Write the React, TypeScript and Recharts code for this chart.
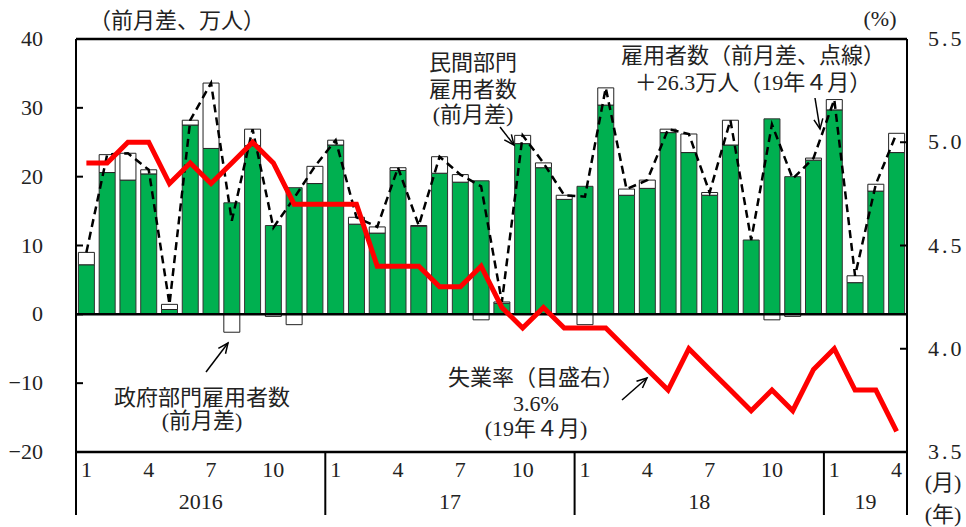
import { ComposedChart, Bar, Line, XAxis, YAxis, ReferenceLine } from 'recharts'

const W = 966
const H = 527
const PLOT_LEFT = 76
const PLOT_RIGHT = 907
const PLOT_TOP = 39
const PLOT_BOTTOM = 452

const FONT = "'Liberation Serif', 'Noto Sans CJK JP', serif"

// months Jan 2016 .. Apr 2019
const MONTHS = [
  1, 2, 3, 4, 5, 6, 7, 8, 9, 10, 11, 12,
  1, 2, 3, 4, 5, 6, 7, 8, 9, 10, 11, 12,
  1, 2, 3, 4, 5, 6, 7, 8, 9, 10, 11, 12,
  1, 2, 3, 4,
]
const YEARS = ['2016', '17', '18', '19']
const YEAR_MONTHS = [12, 12, 12, 4]
const MONTH_TICKS = [1, 4, 7, 10]

// 民間部門雇用者数（前月差、万人）
const PRIVATE = [
  7.2, 20.6, 19.5, 20.4, 0.7, 27.5, 24.1, 16.2, 24.5, 12.9, 18.4, 19.0,
  24.6, 13.1, 11.8, 20.9, 12.8, 20.5, 19.2, 19.4, 1.6, 24.8, 21.3, 16.7,
  18.6, 30.4, 17.3, 18.3, 26.4, 23.5, 17.3, 24.6, 10.8, 28.4, 20.0, 22.4,
  29.7, 4.6, 17.9, 23.5,
]
// 政府部門雇用者数（前月差、万人）
const GOVERNMENT = [
  1.8, 2.6, 3.9, 0.6, 0.75, 0.7, 9.5, -2.6, 2.4, -0.3, -1.5, 2.5,
  0.7, 1.0, 0.9, 0.4, 0.1, 2.4, 1.1, -0.8, 0.2, 1.2, 0.7, 0.6,
  -1.5, 2.5, 0.9, 1.2, 0.5, 2.7, 0.4, 3.6, 0.0, -0.8, -0.3, 0.3,
  1.5, 1.0, 1.0, 2.8,
]
// 雇用者数（前月差、点線）
const TOTAL = [
  9.0, 23.2, 23.4, 21.0, 1.45, 28.2, 33.6, 13.6, 26.9, 12.6, 16.9, 21.5,
  25.3, 14.1, 12.7, 21.3, 12.9, 22.9, 20.3, 18.6, 1.8, 26.0, 22.0, 17.3,
  17.1, 32.9, 18.2, 19.5, 26.9, 26.2, 17.7, 28.2, 10.8, 27.6, 19.7, 22.7,
  31.2, 5.6, 18.9, 26.3,
]
// 失業率（%）
const RATE = [
  4.9, 4.9, 5.0, 5.0, 4.8, 4.9, 4.8, 4.9, 5.0, 4.9, 4.7, 4.7,
  4.7, 4.7, 4.4, 4.4, 4.4, 4.3, 4.3, 4.4, 4.2, 4.1, 4.2, 4.1,
  4.1, 4.1, 4.0, 3.9, 3.8, 4.0, 3.9, 3.8, 3.7, 3.8, 3.7, 3.9,
  4.0, 3.8, 3.8, 3.6,
]

const LEFT_TICKS = [-20, -10, 0, 10, 20, 30, 40]
const RIGHT_TICKS = [3.5, 4.0, 4.5, 5.0, 5.5]

const data = MONTHS.map((m, i) => ({
  idx: i,
  month: m,
  private: PRIVATE[i],
  government: GOVERNMENT[i],
  total: TOTAL[i],
  rate: RATE[i],
}))

const BAND = (PLOT_RIGHT - PLOT_LEFT) / MONTHS.length

function LeftTick({ y, payload }: any) {
  const v = payload.value as number
  const label = v < 0 ? `−${Math.abs(v)}` : `${v}`
  return (
    <g>
      <line x1={PLOT_LEFT} x2={PLOT_LEFT + 7} y1={y} y2={y} stroke="#000" strokeWidth={2} />
      <text x={PLOT_LEFT - 33} y={y + 7} textAnchor="end" fontSize={22} fontFamily={FONT} fill="#222">
        {label}
      </text>
    </g>
  )
}

function RightTick({ y, payload }: any) {
  const v = payload.value as number
  return (
    <g>
      <line x1={PLOT_RIGHT - 7} x2={PLOT_RIGHT} y1={y} y2={y} stroke="#000" strokeWidth={2} />
      <text x={PLOT_RIGHT + 21} y={y + 7} textAnchor="start" fontSize={22} fontFamily={FONT} fill="#222" letterSpacing={3}>
        {v.toFixed(1)}
      </text>
    </g>
  )
}

function MonthTick({ x, payload }: any) {
  const i = payload.value as number
  const m = MONTHS[i]
  const y0 = PLOT_BOTTOM
  const parts: any[] = []
  if (MONTH_TICKS.includes(m)) {
    parts.push(
      <text key="m" x={x} y={y0 + 25} textAnchor="middle" fontSize={22} fontFamily={FONT} fill="#222">
        {m}
      </text>
    )
  }
  if (m === 1) {
    let start = 0
    let yi = 0
    for (let k = 0; k < YEARS.length; k++) {
      if (start === i) { yi = k; break }
      start += YEAR_MONTHS[k]
    }
    const left = x - BAND / 2
    parts.push(<line key="s" x1={left} x2={left} y1={y0} y2={y0 + 63} stroke="#000" strokeWidth={2} />)
    parts.push(
      <text key="y" x={left + (BAND * YEAR_MONTHS[yi]) / 2} y={y0 + 57} textAnchor="middle" fontSize={22} fontFamily={FONT} fill="#222">
        {YEARS[yi]}
      </text>
    )
  }
  if (i === MONTHS.length - 1) {
    const right = x + BAND / 2
    parts.push(<line key="e" x1={right} x2={right} y1={y0} y2={y0 + 63} stroke="#000" strokeWidth={2} />)
  }
  return <g>{parts}</g>
}

function Arrow({ x1, y1, x2, y2 }: { x1: number; y1: number; x2: number; y2: number }) {
  const a = Math.atan2(y2 - y1, x2 - x1)
  const len = 11
  const spread = 0.42
  const ax = x2 - len * Math.cos(a - spread)
  const ay = y2 - len * Math.sin(a - spread)
  const bx = x2 - len * Math.cos(a + spread)
  const by = y2 - len * Math.sin(a + spread)
  return (
    <g stroke="#000" strokeWidth={1.5} fill="none">
      <line x1={x1} y1={y1} x2={x2} y2={y2} />
      <polyline points={`${ax},${ay} ${x2},${y2} ${bx},${by}`} />
    </g>
  )
}

function Notes() {
  const t = { fontSize: 22, fontFamily: FONT, fill: '#222', textAnchor: 'middle' as const }
  return (
    <svg width={W} height={H} style={{ position: 'absolute', left: 0, top: 0, pointerEvents: 'none' }}>
      <text {...t} x={177} y={28}>（前月差、万人）</text>
      <text {...t} x={880} y={26}>(%)</text>

      <text {...t} x={473} y={70}>民間部門</text>
      <text {...t} x={473} y={97}>雇用者数</text>
      <text {...t} x={473} y={122}>(前月差)</text>
      <Arrow x1={500} y1={127} x2={514} y2={145} />

      <text {...t} x={753} y={63}>雇用者数（前月差、点線）</text>
      <text {...t} x={753} y={90}>＋26.3万人（19年４月）</text>
      <Arrow x1={815} y1={98} x2={820} y2={129} />

      <text {...t} x={202} y={405}>政府部門雇用者数</text>
      <text {...t} x={202} y={428}>(前月差)</text>
      <Arrow x1={206} y1={372} x2={228} y2={343} />

      <text {...t} x={536} y={385}>失業率（目盛右）</text>
      <text {...t} x={536} y={411}>3.6%</text>
      <text {...t} x={536} y={436}>(19年４月)</text>
      <Arrow x1={622} y1={400} x2={647} y2={378} />

      <text {...t} x={943} y={490}>(月)</text>
      <text {...t} x={943} y={522}>(年)</text>
    </svg>
  )
}

export default function App() {
  return (
    <div style={{ position: 'absolute', left: 0, top: 0, width: W, height: H, background: '#fff' }}>
      <ComposedChart
        width={W}
        height={H}
        data={data}
        margin={{ top: PLOT_TOP, right: 0, bottom: 0, left: 0 }}
        stackOffset="sign"
        barCategoryGap="11.5%"
      >
        <XAxis
          dataKey="idx"
          type="category"
          interval={0}
          height={H - PLOT_BOTTOM}
          tickLine={false}
          tickSize={0}
          tickMargin={0}
          axisLine={{ stroke: '#000', strokeWidth: 2.5 }}
          tick={<MonthTick />}
        />
        <YAxis
          yAxisId="left"
          orientation="left"
          width={PLOT_LEFT}
          domain={[-20, 40]}
          ticks={LEFT_TICKS}
          allowDataOverflow
          tickLine={false}
          tickSize={0}
          tickMargin={0}
          axisLine={{ stroke: '#000', strokeWidth: 2 }}
          tick={<LeftTick />}
        />
        <YAxis
          yAxisId="right"
          orientation="right"
          width={W - PLOT_RIGHT}
          domain={[3.5, 5.5]}
          ticks={RIGHT_TICKS}
          allowDataOverflow
          tickLine={false}
          tickSize={0}
          tickMargin={0}
          axisLine={{ stroke: '#000', strokeWidth: 2 }}
          tick={<RightTick />}
        />
        <Bar yAxisId="left" dataKey="private" stackId="a" fill="#00B050" stroke="#333" strokeWidth={1} isAnimationActive={false} />
        <Bar yAxisId="left" dataKey="government" stackId="a" fill="#fff" stroke="#222" strokeWidth={1} isAnimationActive={false} />
        <ReferenceLine yAxisId="left" y={0} stroke="#000" strokeWidth={2.5} />
        <ReferenceLine yAxisId="left" y={40} stroke="#000" strokeWidth={2.5} />
        <Line
          yAxisId="left"
          type="linear"
          dataKey="total"
          stroke="#000"
          strokeWidth={2.5}
          strokeDasharray="8 5"
          dot={false}
          activeDot={false}
          isAnimationActive={false}
        />
        <Line
          yAxisId="right"
          type="linear"
          dataKey="rate"
          stroke="#FF0000"
          strokeWidth={5}
          strokeLinejoin="miter"
          dot={false}
          activeDot={false}
          isAnimationActive={false}
        />
      </ComposedChart>
      <Notes />
    </div>
  )
}
